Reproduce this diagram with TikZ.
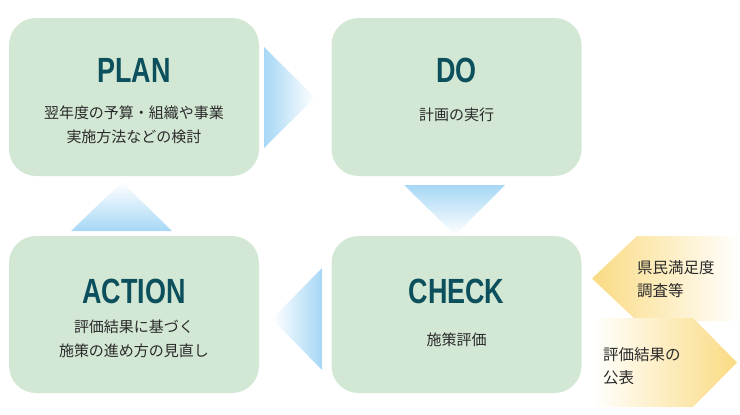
\documentclass[tikz,border=0pt]{standalone}
\usepackage{fontspec}
\newfontfamily\jpfont{Noto Sans CJK JP}
\newfontfamily\ttlfont[FakeStretch=0.77]{Liberation Sans}
\definecolor{boxgreen}{HTML}{D3E8D4}
\definecolor{ttlcol}{HTML}{0C4F5D}
\definecolor{jtxt}{HTML}{2A2A2A}
\definecolor{arrblue}{HTML}{A6D7F5}
\definecolor{arryel}{HTML}{FADB83}
\tikzset{
  phase/.style={fill=boxgreen, draw=none, rounded corners=27pt, minimum width=250pt, minimum height=158pt, inner sep=0pt},
  ttl/.style={text=ttlcol, font=\ttlfont\bfseries\fontsize{35}{35}\selectfont, inner sep=0pt},
  jp/.style={text=jtxt, font=\jpfont\fontsize{15}{24}\selectfont, align=center, inner sep=0pt},
  sidetxt/.style={text=jtxt, font=\jpfont\fontsize{15.5}{23}\selectfont, align=left, inner sep=0pt, anchor=west}
}
\begin{document}
\begin{tikzpicture}[x=1pt,y=-1pt]
\useasboundingbox (0,0) rectangle (740,415);
% boxes
\node[phase] (plan) at (134,97) {};
\node[phase] (do) at (456.5,97) {};
\node[phase, minimum height=157pt] (action) at (134,314.5) {};
\node[phase, minimum height=157pt] (check) at (456.5,314.5) {};
% titles
\node[ttl] (plantitle) at (134,70) {PLAN};
\node[ttl] (dotitle) at (456.5,70) {DO};
\node[ttl] (actiontitle) at (134,291) {ACTION};
\node[ttl] (checktitle) at (456.5,291) {CHECK};
% texts
\node[jp] (plantext) at (134,125) {翌年度の予算・組織や事業\\実施方法などの検討};
\node[jp] (dotext) at (456.5,115) {計画の実行};
\node[jp] (actiontext) at (134,339) {評価結果に基づく\\施策の進め方の見直し};
\node[jp] (checktext) at (456.5,340) {施策評価};
% blue gradient arrows
\shade[left color=arrblue, right color=white] (264,47) -- (315,97.5) -- (264,148) -- cycle;
\shade[top color=arrblue, bottom color=white] (404,185) -- (505,185) -- (455,235) -- cycle;
\shade[top color=white, bottom color=arrblue] (122,182) -- (172,231) -- (71,231) -- cycle;
\shade[left color=white, right color=arrblue] (322,268) -- (322,370) -- (272,319) -- cycle;
% yellow side arrows
\shade[left color=arryel, right color=white] (592,278.5) -- (637,236) -- (740,236) -- (740,321) -- (637,321) -- cycle;
\shade[left color=white, right color=arryel] (592,318) -- (693,318) -- (737,362.5) -- (693,407) -- (592,407) -- cycle;
\node[sidetxt] (survey) at (637,279.5) {県民満足度\\調査等};
\node[sidetxt] (publish) at (603,366) {評価結果の\\公表};
\end{tikzpicture}
\end{document}
